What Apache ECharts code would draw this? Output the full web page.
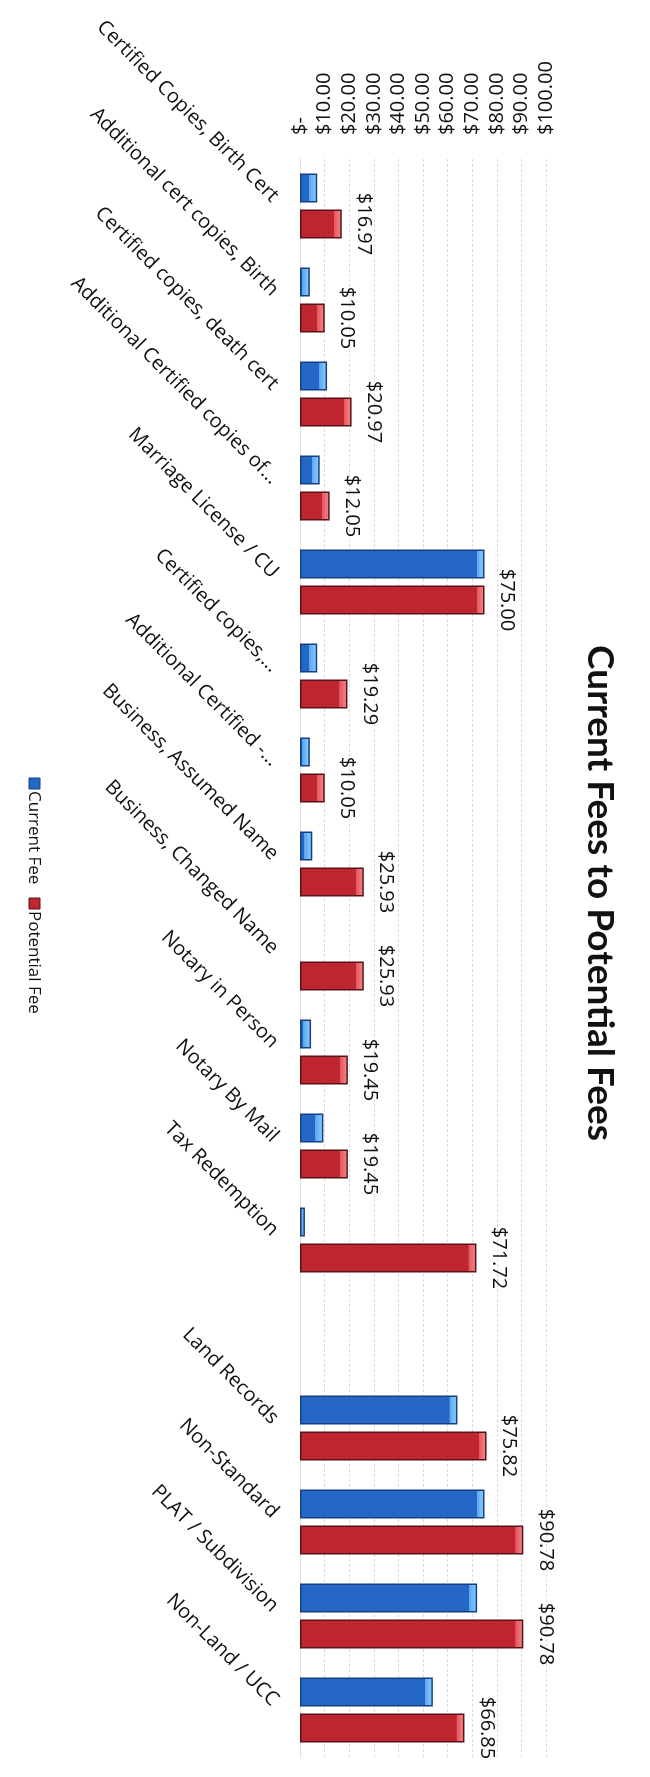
<!DOCTYPE html>
<html>
<head>
<meta charset="utf-8">
<script src="https://cdn.jsdelivr.net/npm/echarts@6/dist/echarts.min.js"></script>
<style>
html, body { margin: 0; padding: 0; background: #ffffff; }
#chart { width: 650px; height: 1777px; }
</style>
</head>
<body>
<div id="chart"></div>
<script>
// ---- data ----
const categories = [
  'Certified Copies, Birth Cert',
  'Additional cert copies, Birth',
  'Certified copies, death cert',
  'Additional Certified copies of...',
  'Marriage License / CU',
  'Certified copies,...',
  'Additional Certified -...',
  'Business, Assumed Name',
  'Business, Changed Name',
  'Notary in Person',
  'Notary By Mail',
  'Tax Redemption',
  '',
  'Land Records',
  'Non-Standard',
  'PLAT / Subdivision',
  'Non-Land / UCC'
];
const currentFee = [7, 4, 11, 8, 75, 7, 4, 5, null, 4.5, 9.5, 2, null, 64, 75, 72, 54];
const potentialFee = [16.97, 10.05, 20.97, 12.05, 75.00, 19.29, 10.05, 25.93, 25.93, 19.45, 19.45, 71.72, null, 75.82, 90.78, 90.78, 66.85];
const seriesNames = ['Current Fee', 'Potential Fee'];
const titleText = 'Current Fees to Potential Fees';

const FONT = '"Open Sans", Lato, sans-serif';
const TFONT = 'Lato, "Open Sans", sans-serif';
const PX_PER_UNIT = 2.46; // plot width 246 / range 100, only for end-cap shading

function capGradient(v, base, mid, light) {
  const len = Math.max(v * PX_PER_UNIT, 1);
  const s = Math.max(0.25, 1 - 8 / len);
  return new echarts.graphic.LinearGradient(0, 0, 1, 0, [
    { offset: 0, color: base },
    { offset: s, color: base },
    { offset: Math.min(1, s + 0.001), color: mid },
    { offset: 1, color: light }
  ]);
}
function styled(arr, base, mid, light) {
  return arr.map(v => v == null ? null : { value: v, itemStyle: { color: capGradient(v, base, mid, light) } });
}

const chart = echarts.init(document.getElementById('chart'));
chart.setOption({
  backgroundColor: '#ffffff',
  animation: false,
  grid: { left: 300, top: 159, width: 246, height: 1598 },
  xAxis: {
    type: 'value',
    position: 'top',
    min: 0, max: 100, interval: 10,
    axisLine: { show: false },
    axisTick: { show: false },
    splitLine: { show: true, lineStyle: { color: '#dcdcdc', width: 1, type: [3, 2] } },
    axisLabel: {
      rotate: -90,
      margin: 24,
      fontFamily: FONT,
      fontSize: 20,
      color: '#111',
      formatter: v => v === 0 ? '$-' : '$' + v.toFixed(2)
    }
  },
  yAxis: {
    type: 'category',
    inverse: true,
    data: categories,
    axisLine: { show: true, lineStyle: { color: '#dedede' } },
    axisTick: { show: false },
    axisLabel: {
      interval: 0,
      rotate: -45,
      margin: 32,
      verticalAlign: 'bottom',
      fontFamily: FONT,
      fontSize: 20,
      color: '#111'
    }
  },
  series: [
    {
      name: seriesNames[0],
      type: 'bar',
      data: styled(currentFee, '#2467c6', '#5aa6ee', '#8fd0ff'),
      barWidth: 29,
      barGap: '24%',
      itemStyle: { color: '#2467c6', borderColor: '#173f82', borderWidth: 1.5 }
    },
    {
      name: seriesNames[1],
      type: 'bar',
      data: styled(potentialFee, '#c0262f', '#e4545b', '#f58a90'),
      barWidth: 29,
      barGap: '24%',
      itemStyle: { color: '#c0262f', borderColor: '#561416', borderWidth: 1.5 },
      label: {
        show: true,
        position: 'right',
        rotate: -90,
        align: 'center',
        verticalAlign: 'bottom',
        distance: 12,
        fontFamily: FONT,
        fontSize: 20,
        color: '#111',
        formatter: p => '$' + Number(p.value).toFixed(2)
      }
    }
  ],
  graphic: [
    {
      type: 'text',
      x: 600, y: 893,
      rotation: -Math.PI / 2,
      style: {
        text: titleText,
        font: 'bold 37px ' + TFONT,
        fill: '#111',
        textAlign: 'center',
        textVerticalAlign: 'middle'
      }
    },
    {
      type: 'group',
      x: 34, y: 890,
      rotation: -Math.PI / 2,
      children: [
        { type: 'rect', shape: { x: -112, y: -6, width: 11, height: 11 }, style: { fill: '#2467c6', stroke: '#173f82' } },
        { type: 'text', x: -99, y: 0, style: { text: seriesNames[0], font: '17px ' + FONT, fill: '#111', textAlign: 'left', textVerticalAlign: 'middle' } },
        { type: 'rect', shape: { x: 8, y: -6, width: 11, height: 11 }, style: { fill: '#c0262f', stroke: '#561416' } },
        { type: 'text', x: 21, y: 0, style: { text: seriesNames[1], font: '17px ' + FONT, fill: '#111', textAlign: 'left', textVerticalAlign: 'middle' } }
      ]
    }
  ]
});
</script>
</body>
</html>
